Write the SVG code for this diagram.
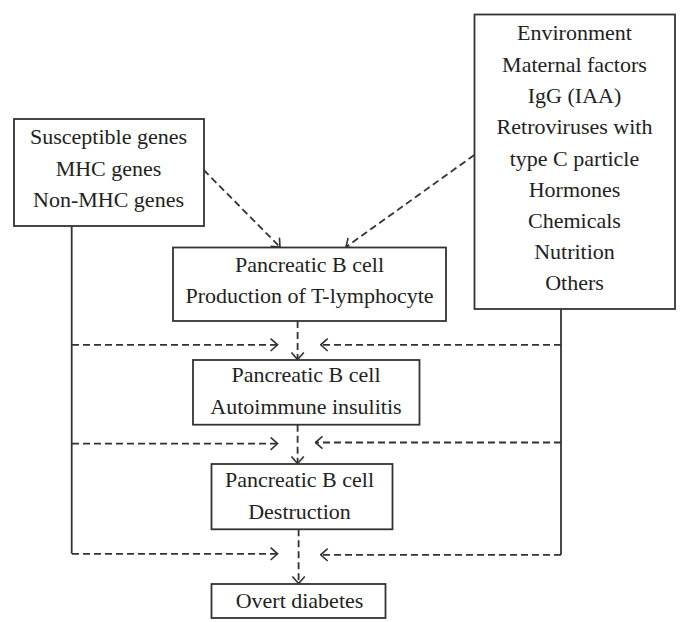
<svg xmlns="http://www.w3.org/2000/svg" width="689" height="622" viewBox="0 0 689 622">
<style>
.box{fill:#fff;stroke:#333;stroke-width:1.8}
.t{font-family:'Liberation Serif','DejaVu Serif',serif;font-size:22px;fill:#222;text-anchor:middle}
.solid{fill:none;stroke:#333;stroke-width:1.8}
.dash{fill:none;stroke:#333;stroke-width:1.8;stroke-dasharray:7,4}
</style>
<defs>
<marker id="arr" viewBox="0 0 9 14" refX="8" refY="7" markerWidth="9" markerHeight="14" markerUnits="userSpaceOnUse" orient="auto">
<path d="M1,0.8 L8,7 L1,13.2" fill="none" stroke="#333" stroke-width="1.6" stroke-dasharray="none"/>
</marker>
</defs>
<rect width="689" height="622" fill="#fff"/>
<g id="connectors">
<path class="solid" d="M71.7,226 V553.8"/>
<path class="solid" d="M561,309 V554.8"/>
<path class="dash" d="M72,344.8 H277.6" marker-end="url(#arr)"/>
<path class="dash" d="M72,443.6 H277.6" marker-end="url(#arr)"/>
<path class="dash" d="M72,553.8 H277.6" marker-end="url(#arr)"/>
<path class="dash" d="M561,344.8 H320.7" marker-end="url(#arr)"/>
<path class="dash" d="M561,442.5 H315.5" marker-end="url(#arr)"/>
<path class="dash" d="M561,554.8 H320.7" marker-end="url(#arr)"/>
<path class="dash" d="M297.6,321 V359.5" marker-end="url(#arr)"/>
<path class="dash" d="M297.6,424.7 V463.5" marker-end="url(#arr)"/>
<path class="dash" d="M298.6,529.3 V583.5" marker-end="url(#arr)"/>
<path class="dash" d="M203.7,170 L280,247" marker-end="url(#arr)"/>
<path class="dash" d="M474.3,155 L346,247" marker-end="url(#arr)"/>
</g>
<g id="genes">
<rect class="box" x="14" y="119" width="190" height="107"/>
<text class="t" x="108.5" y="144">Susceptible genes</text>
<text class="t" x="108.5" y="176">MHC genes</text>
<text class="t" x="108.5" y="207">Non-MHC genes</text>
</g>
<g id="environment">
<rect class="box" x="474.5" y="14.5" width="200.5" height="294.5"/>
<text class="t" x="574.5" y="40">Environment</text>
<text class="t" x="574.5" y="71.5">Maternal factors</text>
<text class="t" x="574.5" y="102.5">IgG (IAA)</text>
<text class="t" x="574.5" y="133.5">Retroviruses with</text>
<text class="t" x="574.5" y="165.5">type C particle</text>
<text class="t" x="574.5" y="196.5">Hormones</text>
<text class="t" x="574.5" y="228">Chemicals</text>
<text class="t" x="574.5" y="259">Nutrition</text>
<text class="t" x="574.5" y="290">Others</text>
</g>
<g id="tlymphocyte">
<rect class="box" x="173" y="247.5" width="273" height="73.5"/>
<text class="t" x="309.5" y="272">Pancreatic B cell</text>
<text class="t" x="309.5" y="303">Production of T-lymphocyte</text>
</g>
<g id="insulitis">
<rect class="box" x="193" y="360" width="226.5" height="64.7"/>
<text class="t" x="306" y="382">Pancreatic B cell</text>
<text class="t" x="306" y="413.5">Autoimmune insulitis</text>
</g>
<g id="destruction">
<rect class="box" x="211.5" y="464" width="181" height="65.3"/>
<text class="t" x="299.5" y="486.5">Pancreatic B cell</text>
<text class="t" x="299.5" y="519">Destruction</text>
</g>
<g id="diabetes">
<rect class="box" x="211.5" y="584" width="174" height="34"/>
<text class="t" x="299.5" y="608">Overt diabetes</text>
</g>
</svg>
